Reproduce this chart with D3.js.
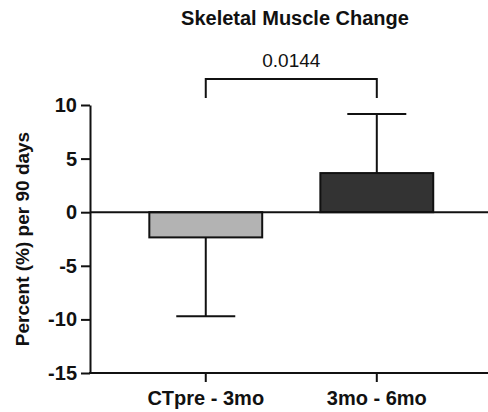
<!DOCTYPE html>
<html><head><meta charset="utf-8">
<script src="https://cdn.jsdelivr.net/npm/d3@7"></script>
<style>
body{margin:0;background:#fff;}
text{font-family:"Liberation Sans",Arial,sans-serif;}
</style></head>
<body><svg id="c" width="488" height="412"></svg>
<script>
const categories = ["CTpre - 3mo", "3mo - 6mo"];
const means = [-2.35, 3.65];
const errors = [7.35, 5.5];
const fills = ["#b3b3b3", "#333333"];
const yTicks = [-15, -10, -5, 0, 5, 10];
const title = "Skeletal Muscle Change";
const yLabel = "Percent (%) per 90 days";
const pText = "0.0144";

const svg = d3.select("#c");
const x = d3.scaleBand().domain(categories).range([90, 488])
  .paddingInner(0.34).paddingOuter(0.3335).align(0.52);
const y = d3.scaleLinear().domain([-15, 10]).range([373, 105]);

// bars
svg.selectAll("rect.bar").data(categories).join("rect")
  .attr("x", d => x(d))
  .attr("width", x.bandwidth())
  .attr("y", (d,i) => y(Math.max(0, means[i])))
  .attr("height", (d,i) => Math.abs(y(means[i]) - y(0)))
  .attr("fill", (d,i) => fills[i])
  .attr("stroke", "#111").attr("stroke-width", 2);

// error bars
const capW = 59;
categories.forEach((c,i) => {
  const cx = x(c) + x.bandwidth()/2;
  const end = means[i] < 0 ? means[i] - errors[i] : means[i] + errors[i];
  svg.append("line").attr("x1", cx).attr("x2", cx)
    .attr("y1", y(means[i])).attr("y2", y(end))
    .attr("stroke", "#111").attr("stroke-width", 2);
  svg.append("line").attr("x1", cx - capW/2).attr("x2", cx + capW/2)
    .attr("y1", y(end)).attr("y2", y(end))
    .attr("stroke", "#111").attr("stroke-width", 2);
});

// zero line
svg.append("line").attr("x1", 90).attr("x2", 488)
  .attr("y1", y(0)).attr("y2", y(0))
  .attr("stroke", "#111").attr("stroke-width", 2);

// y axis
const yAxis = svg.append("g").attr("transform", "translate(90,0)")
  .call(d3.axisLeft(y).tickValues(yTicks).tickFormat(d => String(d)).tickSize(9).tickPadding(4).tickSizeOuter(0));
yAxis.select(".domain").attr("stroke", "#111").attr("stroke-width", 2);
yAxis.selectAll(".tick line").attr("stroke", "#111").attr("stroke-width", 2);
yAxis.selectAll(".tick text").attr("font-size", 20).attr("font-weight", "bold")
  .attr("fill", "#111").attr("font-family", "Liberation Sans, Arial, sans-serif");

// x axis
const xAxis = svg.append("g").attr("transform", "translate(0,373)")
  .call(d3.axisBottom(x).tickSize(9).tickPadding(9).tickSizeOuter(0));
xAxis.select(".domain").attr("d", "M89,0H488").attr("stroke", "#111").attr("stroke-width", 2);
xAxis.selectAll(".tick line").attr("stroke", "#111").attr("stroke-width", 2);
xAxis.selectAll(".tick text").attr("font-size", 20).attr("font-weight", "bold")
  .attr("fill", "#111").attr("font-family", "Liberation Sans, Arial, sans-serif");

// title
svg.append("text").attr("x", 295).attr("y", 25).attr("text-anchor", "middle")
  .attr("font-size", 20).attr("font-weight", "bold").attr("fill", "#111").text(title);

// y label
svg.append("text").attr("transform", "translate(29,239) rotate(-90)")
  .attr("text-anchor", "middle").attr("font-size", 19).attr("font-weight", "bold")
  .attr("fill", "#111").text(yLabel);

// significance bracket
const bx1 = x(categories[0]) + x.bandwidth()/2;
const bx2 = x(categories[1]) + x.bandwidth()/2;
svg.append("path")
  .attr("d", `M${bx1},98V79H${bx2}V98`)
  .attr("fill", "none").attr("stroke", "#111").attr("stroke-width", 2);
svg.append("text").attr("x", (bx1 + bx2)/2).attr("y", 67).attr("text-anchor", "middle")
  .attr("font-size", 19).attr("fill", "#111").text(pText);
</script></body></html>
